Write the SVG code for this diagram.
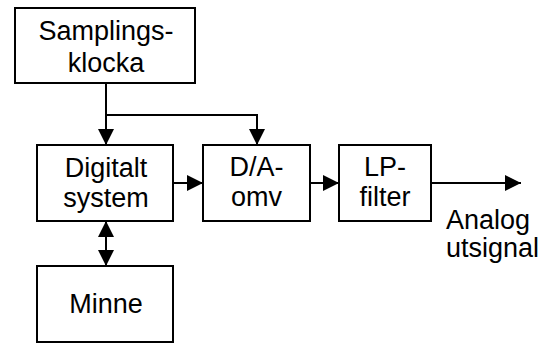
<svg xmlns="http://www.w3.org/2000/svg" width="546" height="343" viewBox="0 0 546 343">
<style>
.box{fill:#fff;stroke:#000;stroke-width:2}
.t{font-family:"Liberation Sans",Arial,sans-serif;font-size:27px;fill:#000;text-anchor:middle}
.c{fill:none;stroke:#000;stroke-width:2}
</style>
<defs>
<marker id="ah" viewBox="0 0 16 16" refX="16" refY="8" markerWidth="16" markerHeight="16" markerUnits="userSpaceOnUse" orient="auto-start-reverse">
<path d="M0,0 L16,8 L0,16 z" fill="#000"/>
</marker>
</defs>
<rect width="546" height="343" fill="#fff"/>
<g id="connectors">
<path class="c" d="M106,83 V145" marker-end="url(#ah)"/>
<path class="c" d="M106,115 H257 V145" marker-end="url(#ah)"/>
<path class="c" d="M173,183 H203" marker-end="url(#ah)"/>
<path class="c" d="M310,183 H339" marker-end="url(#ah)"/>
<path class="c" d="M431,183 H521" marker-end="url(#ah)"/>
<path class="c" d="M106,221 V266" marker-start="url(#ah)" marker-end="url(#ah)"/>
</g>
<g id="samplingsklocka">
<rect class="box" x="15" y="8" width="180" height="75"/>
<text class="t" x="106" y="40">Samplings-</text>
<text class="t" x="106" y="72">klocka</text>
</g>
<g id="digitalt">
<rect class="box" x="37" y="145" width="136" height="76"/>
<text class="t" x="106" y="177">Digitalt</text>
<text class="t" x="106" y="207">system</text>
</g>
<g id="da">
<rect class="box" x="203" y="145" width="107" height="76"/>
<text class="t" x="256.5" y="176">D/A-</text>
<text class="t" x="256.5" y="206">omv</text>
</g>
<g id="lp">
<rect class="box" x="339" y="145" width="92" height="76"/>
<text class="t" x="385" y="176">LP-</text>
<text class="t" x="385" y="206">filter</text>
</g>
<g id="minne">
<rect class="box" x="37" y="266" width="136" height="76"/>
<text class="t" x="106" y="313">Minne</text>
</g>
<g id="output-label">
<text class="t" x="446" y="229" style="text-anchor:start">Analog</text>
<text class="t" x="446" y="257" style="text-anchor:start">utsignal</text>
</g>
</svg>
